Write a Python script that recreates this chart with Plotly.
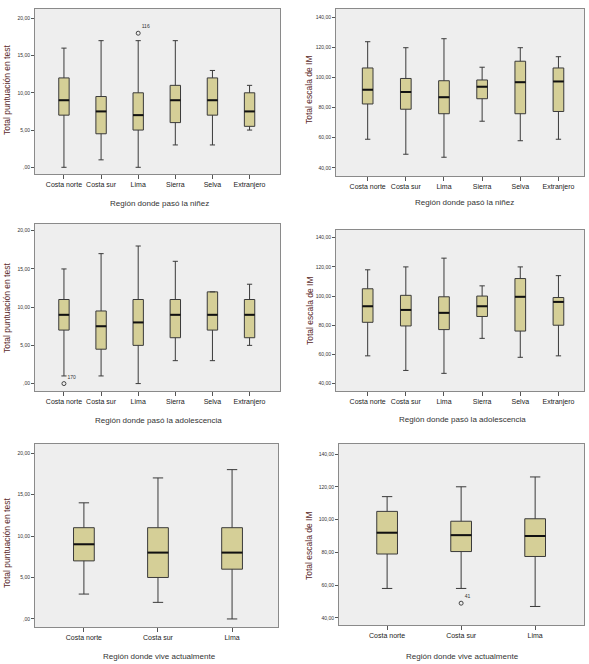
import plotly.graph_objects as go

# categories
regiones6 = ['Costa norte', 'Costa sur', 'Lima', 'Sierra', 'Selva', 'Extranjero']
regiones3 = ['Costa norte', 'Costa sur', 'Lima']

# test score, childhood region
test_nin_low = [0, 1, 0, 3, 3, 5]
test_nin_q1 = [7, 4.5, 5, 6, 7, 5.5]
test_nin_med = [9, 7.5, 7, 9, 9, 7.5]
test_nin_q3 = [12, 9.5, 10, 11, 12, 10]
test_nin_high = [16, 17, 17, 17, 13, 11]

# IM scale, childhood region
im_nin_low = [59, 49, 47, 71, 58, 59]
im_nin_q1 = [82.5, 79, 76, 86, 76, 77.5]
im_nin_med = [92, 90.5, 87, 94, 97, 97.5]
im_nin_q3 = [106.5, 99.5, 98, 98.5, 111, 106.5]
im_nin_high = [124, 120, 126, 107, 120, 114]

# test score, adolescence region
test_ado_low = [1, 1, 0, 3, 3, 5]
test_ado_q1 = [7, 4.5, 5, 6, 7, 6]
test_ado_med = [9, 7.5, 8, 9, 9, 9]
test_ado_q3 = [11, 9.5, 11, 11, 12, 11]
test_ado_high = [15, 17, 18, 16, 12, 13]

# IM scale, adolescence region
im_ado_low = [59, 49, 47, 71, 58, 59]
im_ado_q1 = [82, 79.5, 77, 86, 76, 80]
im_ado_med = [93, 90.5, 88.5, 93, 99.5, 96]
im_ado_q3 = [105, 100.5, 99.5, 100, 112, 99]
im_ado_high = [118, 120, 126, 107, 120, 114]

# test score, current region
test_act_low = [3, 2, 0]
test_act_q1 = [7, 5, 6]
test_act_med = [9, 8, 8]
test_act_q3 = [11, 11, 11]
test_act_high = [14, 17, 18]

# IM scale, current region
im_act_low = [58, 58, 47]
im_act_q1 = [79, 80.5, 77.5]
im_act_med = [92, 90.5, 90]
im_act_q3 = [105, 99, 100.5]
im_act_high = [114, 120, 126]

# outliers: (panel, category, value, case id)
outliers = [
    (1, 'Lima', 18, '116'),
    (3, 'Costa norte', 0, '170'),
    (6, 'Costa sur', 49, '41'),
]

W, H = 589, 664
FONT = 'Liberation Sans'
FILL = '#D5CF97'
LINE = '#3a3a3a'
BOXW = 0.28

test_ticks = [0, 5, 10, 15, 20]
test_text = [',00', '5,00', '10,00', '15,00', '20,00']
im_ticks = [40, 60, 80, 100, 120, 140]
im_text = ['40,00', '60,00', '80,00', '100,00', '120,00', '140,00']

# panel: (cats, low, q1, med, q3, high, px box [l, r, t, b], xrange, yrange, ticks, ticktext)
panels = {
    1: (regiones6, test_nin_low, test_nin_q1, test_nin_med, test_nin_q3, test_nin_high,
        [35, 280, 9, 174], [-0.78, 5.82], [-0.9, 21.25], test_ticks, test_text),
    2: (regiones6, im_nin_low, im_nin_q1, im_nin_med, im_nin_q3, im_nin_high,
        [336, 584, 9, 176], [-0.83, 5.67], [34.5, 145.8], im_ticks, im_text),
    3: (regiones6, test_ado_low, test_ado_q1, test_ado_med, test_ado_q3, test_ado_high,
        [35, 280, 224, 391], [-0.78, 5.82], [-0.97, 20.88], test_ticks, test_text),
    4: (regiones6, im_ado_low, im_ado_q1, im_ado_med, im_ado_q3, im_ado_high,
        [336, 584, 230, 391], [-0.83, 5.67], [34.9, 145.3], im_ticks, im_text),
    5: (regiones3, test_act_low, test_act_q1, test_act_med, test_act_q3, test_act_high,
        [35, 278, 444, 627], [-0.66, 2.62], [-0.97, 21.09], test_ticks, test_text),
    6: (regiones3, im_act_low, im_act_q1, im_act_med, im_act_q3, im_act_high,
        [339, 584, 444, 625], [-0.65, 2.66], [35.7, 146.1], im_ticks, im_text),
}

# axis titles: (text, x px, y px)
xtitles = {
    1: ('Región donde pasó la niñez', 159, 203),
    2: ('Región donde pasó la niñez', 464, 202),
    3: ('Región donde pasó la adolescencia', 158, 420),
    4: ('Región donde pasó la adolescencia', 462, 419),
    5: ('Región donde vive actualmente', 159, 656),
    6: ('Región donde vive actualmente', 462, 656),
}
ytitles = {
    1: ('Total puntuación en test', 7, 90),
    2: ('Total escala de IM', 309, 90),
    3: ('Total puntuación en test', 7, 308),
    4: ('Total escala de IM', 310, 311),
    5: ('Total puntuación en test', 7, 543),
    6: ('Total escala de IM', 309, 546),
}

fig = go.Figure()
layout = {}
annotations = []
shapes = []

for n, (cats, low, q1, med, q3, high, box, xr, yr, tv, tt) in panels.items():
    xa = 'x' if n == 1 else f'x{n}'
    ya = 'y' if n == 1 else f'y{n}'
    l, r, t, b = box
    fig.add_trace(go.Box(
        x=cats, q1=q1, median=med, q3=q3, lowerfence=low, upperfence=high,
        boxpoints=False, fillcolor=FILL, line=dict(color=LINE, width=1),
        width=BOXW, whiskerwidth=0.5, xaxis=xa, yaxis=ya, showlegend=False,
        hoverinfo='skip'))
    # thicker median line, like SPSS
    for i, m in enumerate(med):
        shapes.append(dict(type='line', xref=xa, yref=ya,
                           x0=i - BOXW / 2, x1=i + BOXW / 2, y0=m, y1=m,
                           line=dict(color='#111111', width=2)))
    layout['xaxis' if n == 1 else f'xaxis{n}'] = dict(
        domain=[l / W, r / W], range=xr, anchor=ya, type='category',
        showline=True, mirror=True, linecolor='#8a8a8a', linewidth=1,
        showgrid=False, zeroline=False, ticks='outside', ticklen=4,
        tickcolor='#555', tickfont=dict(family=FONT, size=7, color='#222'))
    layout['yaxis' if n == 1 else f'yaxis{n}'] = dict(
        domain=[1 - b / H, 1 - t / H], range=yr, anchor=xa,
        showline=True, mirror=True, linecolor='#8a8a8a', linewidth=1,
        showgrid=False, zeroline=False, ticks='outside', ticklen=3,
        tickcolor='#555', tickvals=tv, ticktext=tt,
        tickfont=dict(family=FONT, size=5, color='#333'))

for n, cat, val, case in outliers:
    xa = 'x' if n == 1 else f'x{n}'
    ya = 'y' if n == 1 else f'y{n}'
    fig.add_trace(go.Scatter(
        x=[cat], y=[val], mode='markers+text', text=[case],
        textposition='top right', textfont=dict(family=FONT, size=5, color='#333'),
        marker=dict(symbol='circle-open', size=4, color='#444', line=dict(width=1)),
        xaxis=xa, yaxis=ya, showlegend=False, hoverinfo='skip'))

for n, (txt, px, py) in xtitles.items():
    annotations.append(dict(text=txt, x=px / W, y=1 - py / H, xref='paper', yref='paper',
                            xanchor='center', yanchor='middle', showarrow=False,
                            font=dict(family=FONT, size=8, color='#333')))
for n, (txt, px, py) in ytitles.items():
    annotations.append(dict(text=txt, x=px / W, y=1 - py / H, xref='paper', yref='paper',
                            xanchor='center', yanchor='middle', showarrow=False,
                            textangle=-90,
                            font=dict(family=FONT, size=8.5, color='#5a2a2a')))

fig.update_layout(
    width=W, height=H,
    margin=dict(l=0, r=0, t=0, b=0),
    paper_bgcolor='white',
    plot_bgcolor='#EEEEEE',
    annotations=annotations,
    shapes=shapes,
    **layout)

# drop the browser's default 8px body margin so the figure fills the window
fig.write_html("out.html", config={'displayModeBar': False},
               post_script="document.body.style.margin='0px';")
